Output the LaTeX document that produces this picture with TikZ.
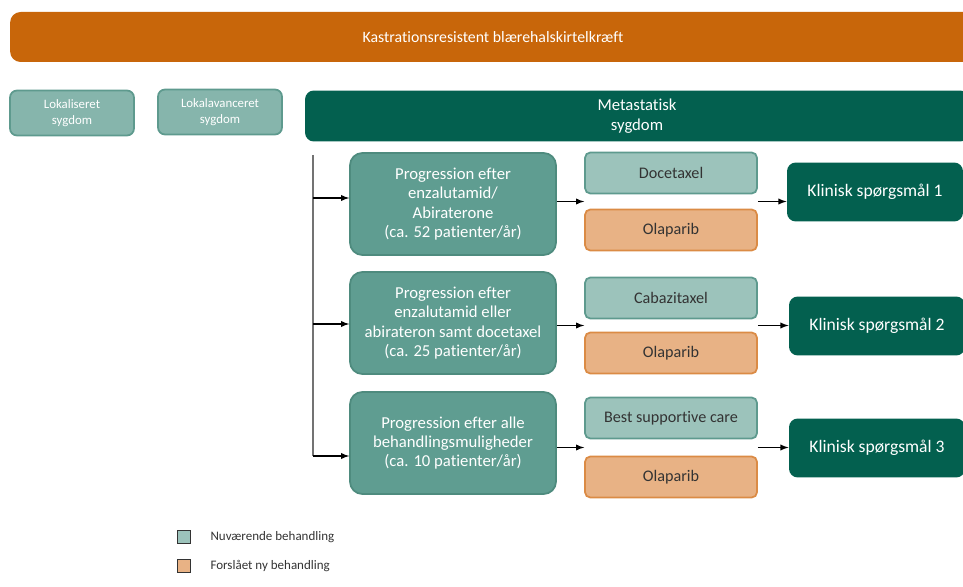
\documentclass[tikz,border=0pt]{standalone}
\usepackage{fontspec}
\setmainfont[Ligatures=NoCommon]{Carlito}
\usetikzlibrary{calc}

\definecolor{crpcorange}{HTML}{C8660A}
\definecolor{darkgreen}{HTML}{03604F}
\definecolor{midteal}{HTML}{5F9D91}
\definecolor{midtealline}{HTML}{4E8B7E}
\definecolor{lightteal}{HTML}{9CC3BB}
\definecolor{lighttealline}{HTML}{5E9A8E}
\definecolor{stageteal}{HTML}{86B5AC}
\definecolor{olafill}{HTML}{E8B285}
\definecolor{olaline}{HTML}{DB8B45}

\begin{document}
\begin{tikzpicture}[x=0.02cm, y=-0.02cm, line width = 0.6pt, >=latex]
\tikzstyle{every node}=[rectangle, align=center, inner sep=0pt];
\tikzstyle{stagebox}=[fill=stageteal, draw=lighttealline, line width=1pt, rounded corners=4pt,
  minimum width=2.48cm, minimum height=0.9cm, text=white, font=\fontsize{7.3}{9}\selectfont];
\tikzstyle{progbox}=[fill=midteal, draw=midtealline, line width=1pt, rounded corners=7pt,
  minimum width=4.12cm, minimum height=2.04cm, text=white, font=\fontsize{9.5}{11}\selectfont];
\tikzstyle{curbox}=[fill=lightteal, draw=lighttealline, line width=1pt, rounded corners=3pt,
  minimum width=3.44cm, minimum height=0.82cm, text=black!80, font=\fontsize{9.2}{11}\selectfont];
\tikzstyle{olabox}=[curbox, fill=olafill, draw=olaline];
\tikzstyle{questbox}=[fill=darkgreen, rounded corners=5pt, minimum width=3.52cm,
  minimum height=1.18cm, text=white, font=\fontsize{10}{12}\selectfont];
\tikzstyle{legbox}=[draw=black!80, line width=0.8pt, minimum size=0.26cm];

\useasboundingbox (0,0) rectangle (963,587);
\clip (0,0) rectangle (963,587);

% top level
\draw(493,37) node[fill=crpcorange, rounded corners=6pt, minimum width=19.32cm, minimum height=1cm,
  text=white, font=\fontsize{9}{11}\selectfont] (CRPC) {Kastrationsresistent blærehalskirtelkræft};

\draw(72,113) node[stagebox] (Lok) {Lokaliseret\\sygdom};
\draw(220,112) node[stagebox] (LokAv) {Lokalavanceret\\sygdom};
\draw(637,116) node[fill=darkgreen, rounded corners=5pt, minimum width=13.28cm, minimum height=1.02cm,
  text=white, font=\fontsize{9.5}{11.5}\selectfont] (Meta) {Metastatisk\\sygdom};

% progression
\draw(453,204) node[progbox] (Prog1) {Progression efter\\enzalutamid/\\Abiraterone\\(ca. 52 patienter/år)};
\draw(453,323) node[progbox] (Prog2) {Progression efter\\enzalutamid eller\\abirateron samt docetaxel\\(ca. 25 patienter/år)};
\draw(453,443) node[progbox] (Prog3) {Progression efter alle\\behandlingsmuligheder\\(ca. 10 patienter/år)};

% treatments
\draw(671,173) node[curbox] (Doce) {Docetaxel};
\draw(671,230) node[olabox] (Ola1) {Olaparib};
\draw(671,298) node[curbox] (Caba) {Cabazitaxel};
\draw(671,353) node[olabox] (Ola2) {Olaparib};
\draw(671,418) node[curbox] (BSC) {Best supportive care};
\draw(671,477) node[olabox] (Ola3) {Olaparib};

% clinical questions
\draw(875,192) node[questbox] (KS1) {Klinisk spørgsmål 1};
\draw(877,326) node[questbox] (KS2) {Klinisk spørgsmål 2};
\draw(877,448) node[questbox] (KS3) {Klinisk spørgsmål 3};

% legend
\draw(184,537) node[legbox, fill=lightteal] (LegCur) {};
\draw(210,537) node[anchor=west, text=black!80, font=\fontsize{7.4}{9}\selectfont] (LegCurTxt) {Nuværende behandling};
\draw(184,566) node[legbox, fill=olafill] (LegNew) {};
\draw(210,566) node[anchor=west, text=black!80, font=\fontsize{7.4}{9}\selectfont] (LegNewTxt) {Forslået ny behandling};

% trunk
\coordinate (Top) at (313,155);
\coordinate (T1) at (313,198);
\coordinate (T2) at (313,324);
\coordinate (T3) at (313,456);
\draw[black!55] (Top) -- (T3);
\draw[->] (T1) -- (T1 -| Prog1.west);
\draw[->] (T2) -- (T2 -| Prog2.west);
\draw[->] (T3) -- (T3 -| Prog3.west);

% gaps between treatment pairs
\coordinate (G1w) at ($(Doce.south west)!0.5!(Ola1.north west)$);
\coordinate (G1e) at ($(Doce.south east)!0.5!(Ola1.north east)$);
\coordinate (G2w) at ($(Caba.south west)!0.5!(Ola2.north west)$);
\coordinate (G2e) at ($(Caba.south east)!0.5!(Ola2.north east)$);
\coordinate (G3w) at ($(BSC.south west)!0.5!(Ola3.north west)$);
\coordinate (G3e) at ($(BSC.south east)!0.5!(Ola3.north east)$);

\draw[->] (Prog1.east |- G1w) -- (G1w);
\draw[->] (Prog2.east |- G2w) -- (G2w);
\draw[->] (Prog3.east |- G3w) -- (G3w);
\draw[->] (G1e) -- (G1e -| KS1.west);
\draw[->] (G2e) -- (G2e -| KS2.west);
\draw[->] (G3e) -- (G3e -| KS3.west);
\end{tikzpicture}
\end{document}
